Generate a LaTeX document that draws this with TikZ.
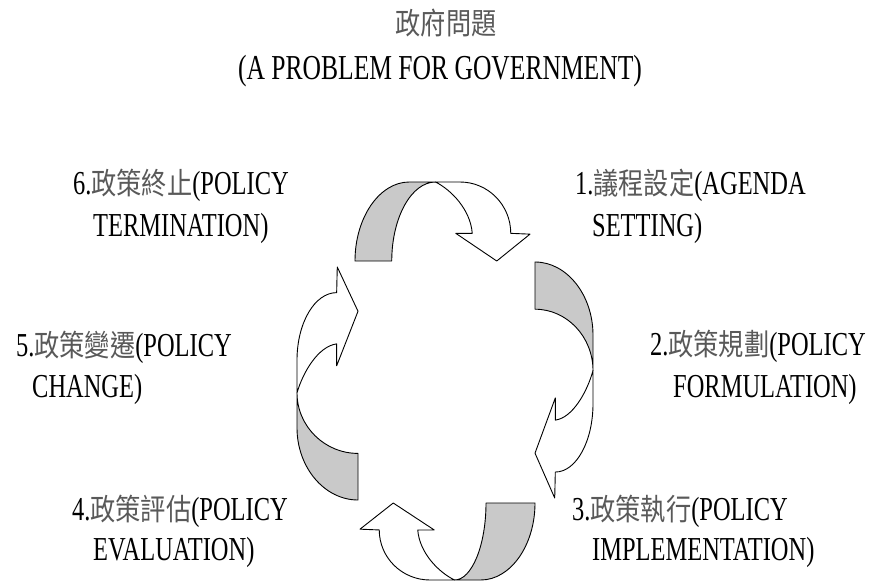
\documentclass[tikz,border=0pt]{standalone}
\usepackage{fontspec}
\setmainfont{Liberation Serif}[FakeStretch=0.73]
\newfontfamily\cjkfont{Noto Sans CJK TC}[FakeStretch=0.84]
\newcommand\zh[1]{{\cjkfont\fontsize{30}{36}\selectfont\color{black!65}#1}}
\newcommand\twarrow[1]{%
  \filldraw[grayband] (0,0) .. controls (0,0.55) and (0.14,1) .. (0.31,1) -- (0.46,1)
    .. controls ({0.46-0.55*(0.46-#1)},1) and (#1,0.55) .. (#1,0) -- cycle;
  \filldraw[whiteband] (0.46,1) -- (0.6,1) .. controls (0.76,1) and (0.89,0.71) .. (0.89,0.35)
    -- (1,0.34) -- (0.81,0) -- (0.576,0.35) -- (0.67,0.35)
    .. controls (0.66,0.65) and (0.55,0.9) .. (0.46,1) -- cycle;
}
\tikzset{
  grayband/.style={fill=black!21, draw=black, line width=0.9pt, line join=round},
  whiteband/.style={fill=white, draw=black, line width=0.9pt, line join=round},
  titletext/.style={inner sep=0pt, font=\fontsize{35}{42}\selectfont},
  labeltext/.style={inner sep=0pt, anchor=base west, font=\fontsize{33.5}{41}\selectfont},
}
\begin{document}
\begin{tikzpicture}[x=1pt,y=1pt]
\useasboundingbox (0,0) rectangle (875,582);
% title
\node[titletext, anchor=base] (t1) at (446,547) {\zh{政府問題}};
\node[titletext, anchor=base] (t2) at (440,502) {(A PROBLEM FOR GOVERNMENT)};
% arrows
\begin{scope}[shift={(355,321)}, rotate=0, xscale=175, yscale=79]
  \twarrow{0.21}
\end{scope}
\begin{scope}[shift={(535,320)}, rotate=-90, xscale=236, yscale=58]
  \twarrow{0.20}
\end{scope}
\begin{scope}[shift={(535,79)}, rotate=180, xscale=175, yscale=77]
  \twarrow{0.28}
\end{scope}
\begin{scope}[shift={(358,82)}, rotate=90, xscale=233, yscale=61]
  \twarrow{0.20}
\end{scope}
% labels
\node[labeltext] (l6a) at (73,387) {6.\zh{政策終止}(POLICY};
\node[labeltext] (l6b) at (93,345) {TERMINATION)};
\node[labeltext] (l1a) at (575,387) {1.\zh{議程設定}(AGENDA};
\node[labeltext] (l1b) at (592,345) {SETTING)};
\node[labeltext] (l5a) at (16,226) {5.\zh{政策變遷}(POLICY};
\node[labeltext] (l5b) at (32,185) {CHANGE)};
\node[labeltext] (l2a) at (650,227) {2.\zh{政策規劃}(POLICY};
\node[labeltext] (l2b) at (673,185) {FORMULATION)};
\node[labeltext] (l4a) at (72,62) {4.\zh{政策評估}(POLICY};
\node[labeltext] (l4b) at (93,22) {EVALUATION)};
\node[labeltext] (l3a) at (572,62) {3.\zh{政策執行}(POLICY};
\node[labeltext] (l3b) at (592,22) {IMPLEMENTATION)};
\end{tikzpicture}
\end{document}
